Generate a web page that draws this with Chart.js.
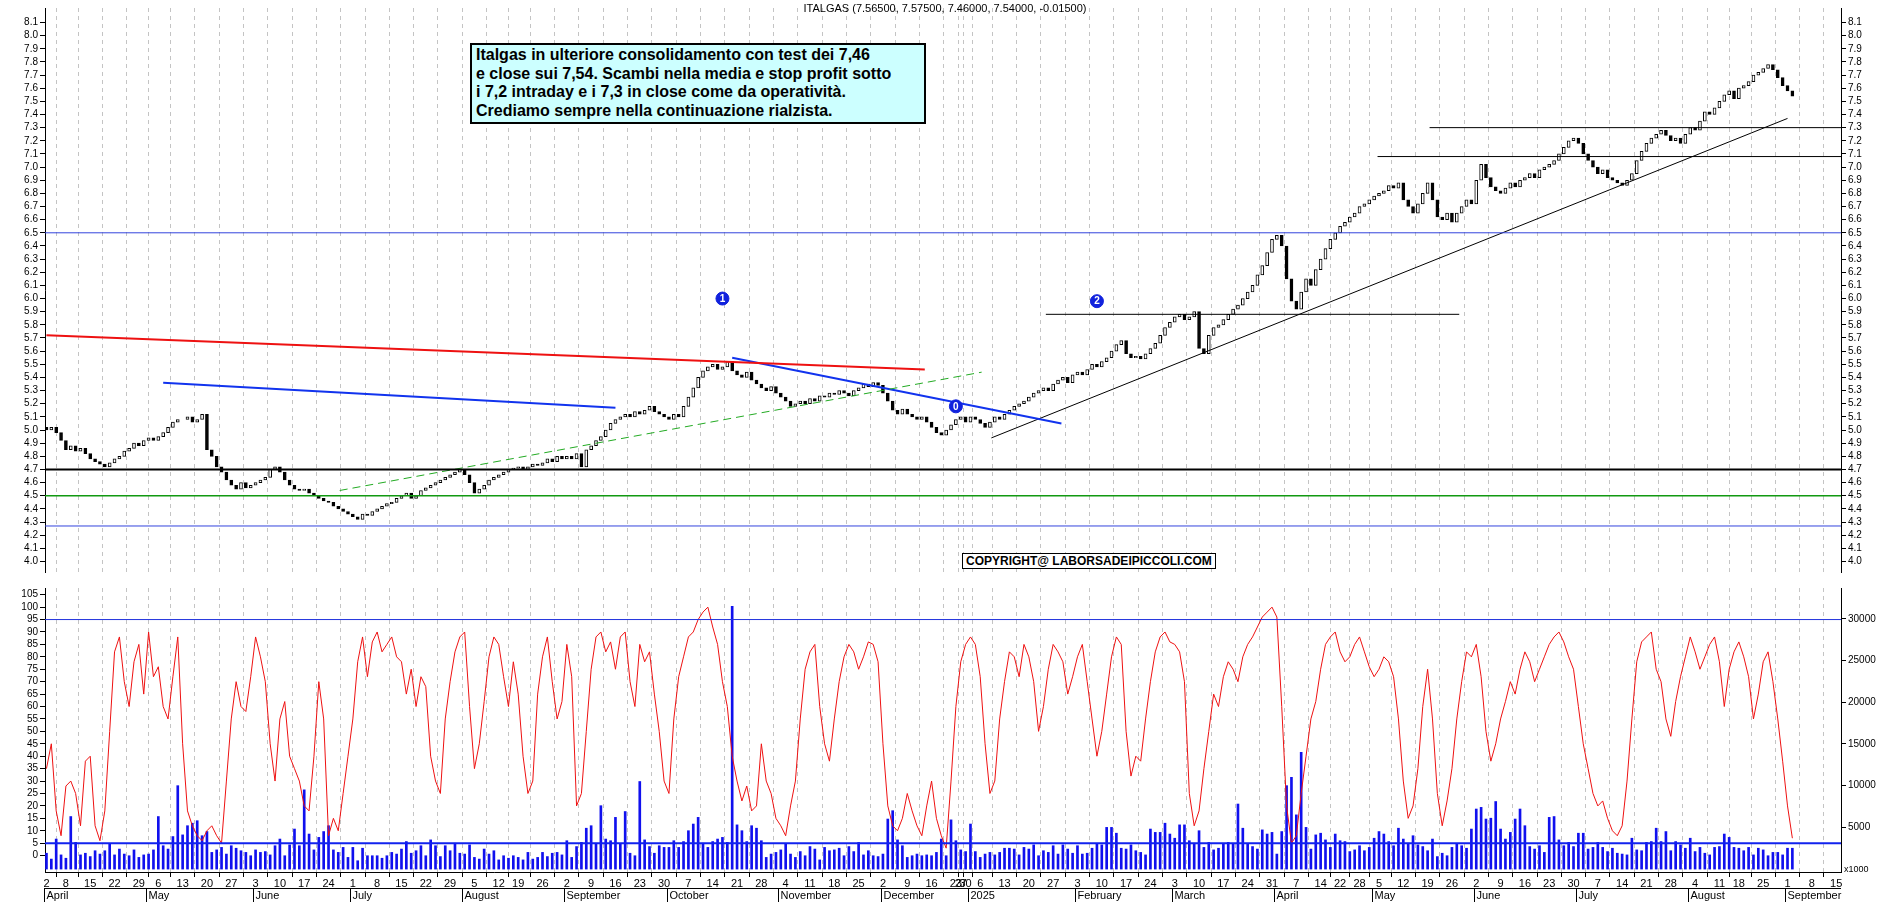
<!DOCTYPE html>
<html>
<head>
<meta charset="utf-8">
<script src="https://cdn.jsdelivr.net/npm/chart.js@4.4.1/dist/chart.umd.min.js"></script>
<style>
  body { margin: 0; background: #fff; width: 1890px; height: 902px; overflow: hidden; position: relative; font-family: 'Liberation Sans Narrow', 'Liberation Sans', Arial, sans-serif; }
  #top { position: absolute; left: 0; top: 0; }
  #bottom { position: absolute; left: 0; top: 580px; }
  #title { position: absolute; left: 0; width: 1890px; top: 2px; text-align: center; font-size: 11px; color: #000; }
  #note { position: absolute; left: 470px; top: 43px; width: 456px; height: 81px; background: #ccffff; border: 2px solid #000;
          font-weight: bold; font-size: 16px; line-height: 18.5px; padding: 1px 4px; box-sizing: border-box; white-space: nowrap; }
  #copy { position: absolute; left: 962px; top: 553px; padding: 0 3px; background: #fff; border: 1px solid #000;
          font-weight: bold; font-size: 12px; line-height: 14px; }
</style>
</head>
<body>
<canvas id="top" width="1890" height="580"></canvas>
<canvas id="bottom" width="1890" height="322"></canvas>
<div id="title">ITALGAS (7.56500, 7.57500, 7.46000, 7.54000, -0.01500)</div>
<div id="note">Italgas in ulteriore consolidamento con test dei 7,46<br>e close sui 7,54. Scambi nella media e stop profit sotto<br>i 7,2 intraday e i 7,3 in close come da operatività.<br>Crediamo sempre nella continuazione rialzista.</div>
<div id="copy">COPYRIGHT@ LABORSADEIPICCOLI.COM</div>
<script>
// daily closes, Apr 2 2024 -> Sep 2 2025
const closes = [
  5.00,5.02,4.98,4.92,4.85,4.88,4.84,4.86,4.82,4.78,4.76,4.74,4.72,4.75,4.78,4.80,4.84,4.86,4.90,4.88,4.92,
  4.94,4.92,4.95,4.98,5.02,5.06,5.08,5.08,5.10,5.06,5.08,5.12,4.85,4.80,4.72,4.68,4.62,4.58,4.55,4.60,4.56,4.58,
  4.60,4.62,4.64,4.70,4.72,4.68,4.62,4.58,4.55,4.54,4.55,4.52,4.50,4.48,4.46,4.45,4.42,4.40,4.38,4.36,
  4.34,4.32,4.36,4.35,4.38,4.40,4.42,4.44,4.45,4.48,4.50,4.52,4.48,4.50,4.54,4.56,4.58,4.60,4.62,4.64,4.66,4.68,4.70,
  4.66,4.60,4.52,4.55,4.58,4.62,4.64,4.66,4.68,4.70,4.71,4.72,4.70,4.72,4.74,4.73,4.75,4.78,4.76,4.80,4.78,
  4.80,4.78,4.82,4.72,4.85,4.88,4.92,4.95,5.00,5.05,5.08,5.10,5.12,5.10,5.14,5.12,5.15,5.18,5.14,5.12,5.10,
  5.08,5.12,5.10,5.18,5.25,5.32,5.40,5.45,5.48,5.50,5.46,5.48,5.52,5.45,5.42,5.40,5.44,5.38,5.35,5.32,5.30,5.33,5.28,
  5.25,5.22,5.18,5.20,5.22,5.20,5.24,5.22,5.26,5.25,5.28,5.27,5.30,5.28,5.26,5.30,5.32,5.35,5.33,5.36,5.34,
  5.28,5.22,5.15,5.12,5.16,5.12,5.10,5.08,5.10,5.06,5.02,4.98,4.96,5.00,5.04,5.08,5.10,5.06,
  5.10,5.08,5.05,5.02,5.06,5.10,5.08,5.12,5.15,5.18,5.20,5.22,5.25,5.28,5.30,5.32,5.30,5.35,5.38,5.40,5.36,5.42,
  5.44,5.42,5.46,5.50,5.48,5.52,5.55,5.60,5.65,5.68,5.58,5.55,5.56,5.54,5.58,5.62,5.66,5.72,5.78,5.82,
  5.86,5.88,5.84,5.86,5.90,5.62,5.58,5.72,5.78,5.80,5.84,5.88,5.92,5.95,6.00,6.05,6.10,6.18,6.25,6.35,6.45,
  6.48,6.40,6.15,5.98,5.92,6.05,6.15,6.10,6.22,6.30,6.38,6.45,6.50,6.55,6.58,6.62,6.65,6.70,6.72,6.75,
  6.78,6.80,6.82,6.86,6.84,6.88,6.75,6.70,6.65,6.72,6.80,6.88,6.75,6.62,6.60,6.65,6.58,6.65,6.70,6.75,6.72,
  6.90,7.02,6.92,6.85,6.82,6.80,6.84,6.88,6.85,6.90,6.92,6.95,6.92,6.98,7.00,7.02,7.05,7.10,7.15,7.20,7.22,
  7.18,7.10,7.05,7.00,6.95,6.98,6.92,6.90,6.88,6.86,6.90,6.95,7.05,7.12,7.18,7.22,7.25,7.28,7.24,7.20,7.22,7.18,7.25,
  7.30,7.28,7.35,7.42,7.40,7.45,7.50,7.55,7.58,7.52,7.60,7.62,7.65,7.70,7.72,7.75,7.78,7.74,7.68,7.62,
  7.58,7.54
];
const firstOpen = 5.02;

// oscillator (red line, 0-100)
const osc = [
  35,45,18,8,28,30,25,12,38,40,12,6,18,50,82,88,70,60,78,85,65,
  90,72,76,60,55,72,88,45,18,12,8,6,10,12,8,5,30,55,70,60,58,72,
  88,80,70,45,30,55,62,40,35,30,20,18,40,70,55,8,15,10,25,40,
  55,78,88,72,86,90,82,85,88,80,78,65,75,60,72,68,40,30,25,55,70,82,88,
  90,60,35,45,62,80,88,85,72,60,78,65,40,25,30,65,80,88,70,55,62,
  85,72,20,25,50,75,88,90,82,86,75,88,90,70,60,85,78,82,65,50,30,
  25,55,72,80,88,90,95,98,100,92,85,70,60,40,30,22,28,18,20,45,30,25,15,
  12,8,20,30,55,75,82,85,60,45,38,55,70,80,85,82,75,80,86,85,78,
  45,20,12,10,15,25,18,12,8,20,30,15,8,3,30,60,78,85,
  88,85,72,45,25,30,55,70,82,80,72,85,80,70,50,60,75,85,82,78,65,72,
  80,85,70,55,40,50,65,80,88,85,50,32,40,38,55,70,82,88,90,86,
  85,82,70,25,12,18,35,50,65,60,72,78,75,70,80,85,88,92,96,98,100,
  96,60,20,5,8,25,40,55,62,75,85,88,90,82,78,80,85,88,82,76,
  72,75,80,78,72,55,30,15,20,35,60,75,55,25,12,22,35,55,70,82,80,
  85,72,50,38,45,55,62,70,65,75,82,78,70,75,80,85,88,90,86,80,75,
  60,45,35,25,20,22,15,10,8,12,30,55,78,86,88,90,75,70,55,48,62,72,80,
  88,82,75,80,85,88,78,60,75,82,86,80,72,55,65,78,82,70,55,38,
  20,7
];

// volume, thousands of shares
const volume = [
  1900,1200,3600,1700,1300,6300,3200,1700,1900,1500,2200,1800,2200,3000,1700,2400,1800,1600,2300,1400,1700,
  1800,2300,6300,2800,2400,3900,10000,4100,5200,5500,5800,4000,4500,2000,2300,2600,1800,2800,2500,2200,2000,1600,
  2300,2000,2100,1700,2800,3600,1600,2900,4800,2800,9500,4200,2300,3800,4500,5200,2300,2000,2600,1400,
  2600,1000,2500,1600,1600,1600,1300,1600,2000,1800,2400,3300,1900,2200,2800,1600,3500,2800,1500,2800,2200,3100,1900,
  1800,2900,1400,1200,2400,1800,2200,1100,1600,1300,1600,1400,1100,2000,1200,1400,2000,1500,1900,2000,1700,
  3400,1400,2700,3200,4900,5200,3100,7600,3600,3400,6200,3000,6900,1900,1600,10500,3500,2700,1900,2800,2600,
  2600,3400,2600,3300,4600,5400,6200,3100,2600,3300,3600,3800,3200,31500,5300,4600,3300,5200,4900,3400,1400,1800,2000,
  2300,3000,1800,1400,2100,1600,2700,2400,1100,2600,2200,2300,2500,1600,2700,2100,3200,1700,2200,1600,1500,
  1800,6000,7000,3500,2800,1400,1600,1800,1600,1700,1600,2000,3600,1600,5900,3400,2300,2100,
  5400,2100,1400,1800,2000,1700,2000,2500,2500,2400,1700,2600,2400,2900,1600,2200,2000,2800,1800,2900,2400,1900,
  2800,1800,1900,2500,3000,2900,5000,5000,4300,2500,2400,2900,2200,2000,1700,4800,4400,4400,5500,4200,
  3700,5300,5300,3400,3100,4600,2600,3200,2300,2500,3000,3200,3000,7800,4900,3000,2700,2400,4700,4200,4400,
  1800,4500,10000,11000,6500,14000,5000,2400,4100,4300,3500,2600,4200,3400,3300,2100,2300,2800,2200,2600,
  3700,4500,4200,3300,2800,4900,3600,3100,4000,2900,2700,2200,3600,1500,1900,1600,2600,3000,2800,2500,4800,
  7200,7400,6000,6100,8100,4800,3600,4400,6000,7200,5200,2700,2400,2800,2000,6200,6300,3500,2800,3200,2700,
  4300,4300,2400,2600,3200,2600,2100,2500,1900,1800,1700,3700,2300,2200,3200,3300,4900,3300,4500,2200,3300,2900,2500,
  3700,2100,2600,1900,1700,2600,2700,4200,3800,2600,2500,2200,2600,1700,2500,2300,1600,2000,2000,1700,
  2500,2500
];

const priceTicks = [];
for (let k = 40; k <= 81; k++) priceTicks.push(k / 10);
const oscTicks = [0,5,10,15,20,25,30,35,40,45,50,55,60,65,70,75,80,85,90,95,100,105];
const volTicks = [5000,10000,15000,20000,25000,30000];

const monthNames = ['January','February','March','April','May','June','July','August','September','October','November','December'];
const holidays = ['2024-05-01','2024-08-15','2024-12-24','2024-12-25','2024-12-26','2024-12-31','2025-01-01',
                  '2025-04-18','2025-04-21','2025-05-01','2025-08-15'];

const X_MIN = -0.3, X_MAX = 369;
const LEFT_W = 45, RIGHT_W = 49;

// trading-day calendar (plus empty days after the last bar)
const days = [];
let d = new Date(Date.UTC(2024, 3, 2));
while (days.length < closes.length + 14) {
  const wd = d.getUTCDay();
  const key = d.toISOString().slice(0, 10);
  if (wd !== 0 && wd !== 6 && !holidays.includes(key)) days.push(new Date(d));
  d = new Date(d.getTime() + 86400000);
}
const weekTicks = [], monthStarts = [];
days.forEach((dt, i) => {
  if (i > X_MAX) return;
  if (i === 0 || dt.getUTCDay() <= days[i - 1].getUTCDay() || dt - days[i - 1] > 3 * 86400000) weekTicks.push(i);
  if (i === 0 || dt.getUTCMonth() !== days[i - 1].getUTCMonth()) monthStarts.push(i);
});

const candles = closes.map((c, i) => ({ x: i, y: [i === 0 ? firstOpen : closes[i - 1], c] }));
const up = closes.map((c, i) => c >= (i === 0 ? firstOpen : closes[i - 1]));

function seg(x1, y1, x2, y2, color, width, dash) {
  return { type: 'line', data: [{ x: x1, y: y1 }, { x: x2, y: y2 }], borderColor: color, borderWidth: width,
           borderDash: dash || [], pointRadius: 0, fill: false, order: 0 };
}

const markers = [{ x: 139, y: 6.0, t: '1' }, { x: 216, y: 5.98, t: '2' }, { x: 187, y: 5.18, t: '0' }];

const markerText = {
  id: 'markerText',
  afterDatasetsDraw(chart) {
    const ds = chart.data.datasets.findIndex(s => s.label === 'markers');
    if (ds < 0) return;
    const ctx = chart.ctx;
    ctx.save();
    ctx.fillStyle = '#fff';
    ctx.font = 'bold 10px Liberation Sans, Arial';
    ctx.textAlign = 'center';
    ctx.textBaseline = 'middle';
    chart.getDatasetMeta(ds).data.forEach((p, i) => ctx.fillText(markers[i].t, p.x, p.y + 0.5));
    ctx.restore();
  }
};

const tickFont = { family: 'Liberation Sans Narrow, Liberation Sans, Arial', size: 10 };

function yAxis(pos, min, max, list, cb) {
  return {
    type: 'linear', position: pos, min: min, max: max,
    afterBuildTicks: s => { s.ticks = list.map(v => ({ value: v })); },
    ticks: { color: '#000', font: tickFont, padding: 2, autoSkip: false, callback: cb },
    grid: { drawOnChartArea: false, color: '#000', tickLength: 5 },
    border: { color: '#000', width: 1 },
    afterFit: s => { s.width = pos === 'left' ? LEFT_W : RIGHT_W; }
  };
}

const priceCb = v => v.toFixed(1);

const weekGrid = { color: '#c4c4c4', tickLength: 5, tickColor: '#000' };

new Chart(document.getElementById('top'), {
  type: 'bar',
  data: {
    datasets: [
      { type: 'bar', data: candles, barThickness: 3, order: 2,
        backgroundColor: ctx => up[ctx.dataIndex] ? '#fff' : '#000', borderColor: '#000', borderWidth: 1, borderSkipped: false },
      seg(X_MIN, 6.5, X_MAX, 6.5, '#3344dd', 1),
      seg(X_MIN, 4.7, X_MAX, 4.7, '#000', 2),
      seg(X_MIN, 4.5, X_MAX, 4.5, '#119911', 1.5),
      seg(X_MIN, 4.27, X_MAX, 4.27, '#3344dd', 1),
      seg(0, 5.72, 180.6, 5.46, '#ee1111', 2),
      seg(24, 5.36, 117, 5.17, '#1133ee', 2),
      seg(60.3, 4.54, 192.3, 5.44, '#22aa22', 1, [8, 5]),
      seg(141, 5.55, 208.7, 5.05, '#1133ee', 2),
      seg(194.3, 4.94, 358, 7.37, '#000', 1),
      seg(205.5, 5.88, 290.5, 5.88, '#000', 1),
      seg(273.7, 7.08, X_MAX, 7.08, '#000', 1),
      seg(284.4, 7.30, X_MAX, 7.30, '#000', 1),
      { type: 'line', label: 'markers', data: markers.map(m => ({ x: m.x, y: m.y })), showLine: false,
        pointRadius: 6.5, pointBackgroundColor: '#1122dd', pointBorderColor: '#1122dd', order: -1 }
    ]
  },
  options: {
    responsive: false, animation: false, events: [],
    layout: { padding: 0 },
    plugins: { legend: { display: false }, tooltip: { enabled: false } },
    scales: {
      x: { type: 'linear', min: X_MIN, max: X_MAX, offset: false,
           afterBuildTicks: s => { s.ticks = weekTicks.map(v => ({ value: v })); },
           ticks: { display: false },
           grid: { color: '#c4c4c4', drawTicks: false },
           border: { display: false, dash: [4, 4] },
           afterFit: s => { s.height = 0; } },
      y: yAxis('left', 3.92, 8.21, priceTicks, priceCb),
      y2: yAxis('right', 3.92, 8.21, priceTicks, priceCb)
    }
  },
  plugins: [markerText]
});

const monthLabels = {
  id: 'monthLabels',
  afterDraw(chart) {
    const ctx = chart.ctx, xs = chart.scales.x, a = chart.chartArea;
    ctx.save();
    ctx.strokeStyle = '#000';
    ctx.lineWidth = 1;
    ctx.beginPath();
    ctx.moveTo(a.left, 308.5); ctx.lineTo(a.right, 308.5);
    ctx.stroke();
    ctx.fillStyle = '#000';
    ctx.font = '11px Liberation Sans Narrow, Liberation Sans, Arial';
    ctx.textBaseline = 'top';
    monthStarts.forEach(i => {
      const px = Math.round(xs.getPixelForValue(i - 0.5)) + 0.5;
      ctx.beginPath(); ctx.moveTo(px, 308); ctx.lineTo(px, 322); ctx.stroke();
      const dt = days[i];
      const name = dt.getUTCMonth() === 0 ? String(dt.getUTCFullYear()) : monthNames[dt.getUTCMonth()];
      ctx.fillText(name, px + 2, 310);
    });
    ctx.font = '9px Liberation Sans, Arial';
    ctx.fillText('x1000', a.right + 3, 285);
    ctx.restore();
  }
};

new Chart(document.getElementById('bottom'), {
  type: 'bar',
  data: {
    datasets: [
      { type: 'bar', data: volume.map((v, i) => ({ x: i, y: v })), yAxisID: 'y2', barThickness: 2,
        backgroundColor: '#1010ee', order: 3 },
      { type: 'line', data: osc.map((v, i) => ({ x: i, y: v })), yAxisID: 'y', borderColor: '#ee1111',
        borderWidth: 1, pointRadius: 0, tension: 0, order: 1 },
      Object.assign(seg(X_MIN, 95, X_MAX, 95, '#2233dd', 1), { yAxisID: 'y' }),
      Object.assign(seg(X_MIN, 3100, X_MAX, 3100, '#1122ee', 2), { yAxisID: 'y2' })
    ]
  },
  options: {
    responsive: false, animation: false, events: [],
    layout: { padding: { top: 5, bottom: 0 } },
    plugins: { legend: { display: false }, tooltip: { enabled: false } },
    scales: {
      x: { type: 'linear', min: X_MIN, max: X_MAX, offset: false,
           afterBuildTicks: s => { s.ticks = weekTicks.map(v => ({ value: v })); },
           ticks: { color: '#000', font: { family: 'Liberation Sans Narrow, Liberation Sans, Arial', size: 11 },
                    maxRotation: 0, autoSkip: false, padding: 0,
                    callback: v => days[v] ? String(days[v].getUTCDate()) : '' },
           grid: weekGrid,
           border: { color: '#000', width: 1, dash: [4, 4] },
           afterFit: s => { s.height = 30; } },
      y: yAxis('left', -6.6, 107.7, oscTicks, v => String(v)),
      y2: yAxis('right', -350, 33700, volTicks, v => String(v))
    }
  },
  plugins: [monthLabels]
});
</script>
</body>
</html>
